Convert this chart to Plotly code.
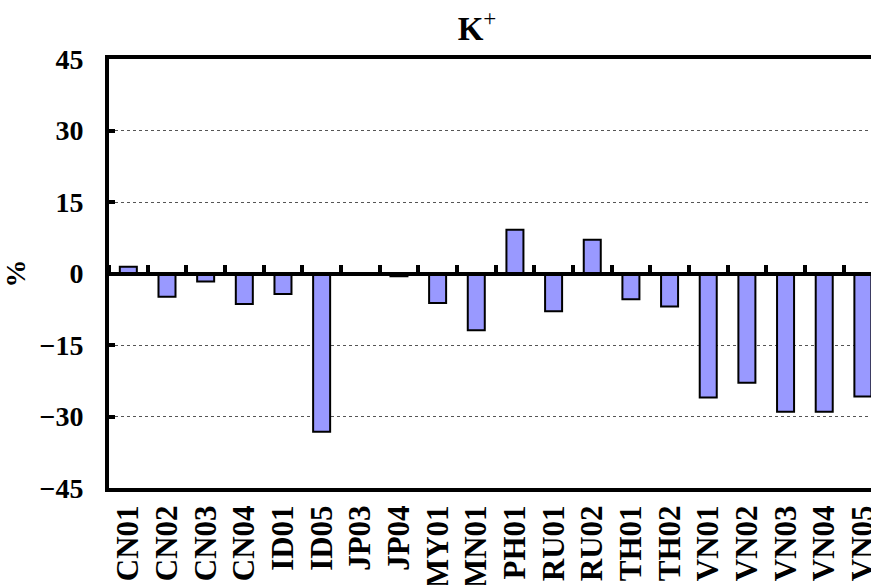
import plotly.graph_objects as go

# sites and K+ deviation (%)
sites = ["CN01", "CN02", "CN03", "CN04", "ID01", "ID05", "JP03", "JP04", "MY01", "MN01",
         "PH01", "RU01", "RU02", "TH01", "TH02", "VN01", "VN02", "VN03", "VN04", "VN05"]
k_plus = [1.4, -4.9, -1.7, -6.4, -4.3, -33.2, 0.0, -0.6, -6.2, -11.9,
          9.2, -7.9, 7.1, -5.4, -6.9, -26.0, -22.9, -29.0, -29.0, -25.8]
y_ticks = [-45, -30, -15, 0, 15, 30, 45]

pos = list(range(len(sites)))
x_range = [-0.5, 19.21]
serif = "Liberation Serif"

fig = go.Figure()
fig.add_trace(go.Bar(
    x=pos, y=k_plus, width=0.44,
    marker=dict(color="#9999FF", line=dict(color="black", width=2)),
    showlegend=False, hoverinfo="x+y",
))
# carries the zero-line axis with its category boundary ticks
fig.add_trace(go.Scatter(
    x=pos, y=k_plus, xaxis="x2", mode="markers",
    marker=dict(opacity=0), showlegend=False, hoverinfo="skip",
))

fig.update_layout(
    width=871, height=585,
    margin=dict(l=109, r=0, t=59, b=97),
    plot_bgcolor="white", paper_bgcolor="white",
    font=dict(family=serif, color="black"),
    title=dict(text="<b>K</b><sup>+</sup>", x=0.483, xref="paper", xanchor="center",
               y=0.952, yref="container", yanchor="middle",
               font=dict(family=serif, size=33, color="black")),
    xaxis=dict(range=x_range, tickmode="array", tickvals=pos, ticktext=sites,
               tickangle=-90, ticks="", showgrid=False, zeroline=False,
               showline=True, linewidth=4, linecolor="black", mirror=True,
               tickfont=dict(family=serif, size=31, weight="bold"),
               ticklabelstandoff=1, ticklabeloverflow="allow", automargin=False),
    xaxis2=dict(range=x_range, overlaying="x", anchor="free", position=0.5, side="top",
                tickmode="array", tickvals=[p - 0.5 for p in pos] + [len(sites) - 0.5],
                ticks="outside", ticklen=7, tickwidth=4, tickcolor="black",
                showticklabels=False, showgrid=False, zeroline=False,
                showline=True, linewidth=4, linecolor="black"),
    yaxis=dict(range=[-45, 45], tickmode="array", tickvals=y_ticks,
               ticks="inside", ticklen=6, tickwidth=4, tickcolor="black",
               showgrid=True, gridcolor="#555", gridwidth=1, griddash="dot",
               zeroline=False, showline=True, linewidth=4, linecolor="black",
               tickfont=dict(family=serif, size=28, weight="bold"),
               ticklabelstandoff=16, automargin=False,
               title=dict(text="<b>%</b>", standoff=20,
                          font=dict(family=serif, size=28))),
)

# drop the default page margin so the figure sits at the window's corner
fig.write_html("out.html", config={"displayModeBar": False},
               post_script="document.body.style.margin='0';document.body.style.overflow='hidden';")
